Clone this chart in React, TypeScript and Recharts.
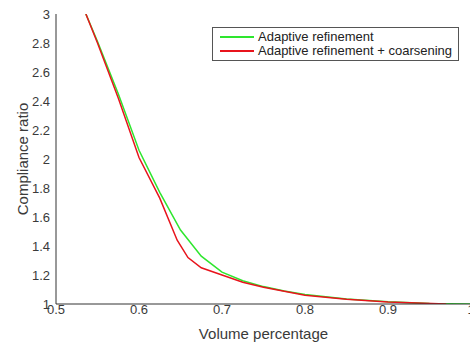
import { LineChart, Line, XAxis, YAxis, Legend } from "recharts";

// Adaptive refinement (green)
const refineVolume = [0.536, 0.55, 0.575, 0.6, 0.625, 0.65, 0.675, 0.7, 0.725, 0.75, 0.775, 0.8, 0.85, 0.9, 0.95, 1.0];
const refineRatio = [3.0, 2.81, 2.45, 2.06, 1.77, 1.51, 1.33, 1.22, 1.16, 1.12, 1.09, 1.065, 1.035, 1.015, 1.003, 1.0];

// Adaptive refinement + coarsening (red)
const coarsenVolume = [0.536, 0.55, 0.575, 0.6, 0.625, 0.646, 0.659, 0.675, 0.7, 0.725, 0.75, 0.8, 0.85, 0.9, 0.97];
const coarsenRatio = [3.0, 2.8, 2.42, 2.01, 1.73, 1.44, 1.32, 1.25, 1.2, 1.15, 1.115, 1.06, 1.033, 1.013, 1.0];

const xTicks = [0.5, 0.6, 0.7, 0.8, 0.9, 1];
const yTicks = [1, 1.2, 1.4, 1.6, 1.8, 2, 2.2, 2.4, 2.6, 2.8, 3];

const refineData = refineVolume.map((v, i) => ({ volume: v, ratio: refineRatio[i] }));
const coarsenData = coarsenVolume.map((v, i) => ({ volume: v, ratio: coarsenRatio[i] }));

const font = "'Liberation Sans', Arial, sans-serif";
const axisColor = "#333";
const textColor = "#3a3a3a";

function LegendBox({ payload }: any) {
  return (
    <div
      style={{
        border: "1px solid #555",
        background: "#fff",
        padding: "2px 6px 2px 7px",
        fontFamily: font,
        fontSize: 13,
        color: "#222",
        lineHeight: "14px",
      }}
    >
      {(payload || []).map((p: any) => (
        <div key={p.value} style={{ display: "flex", alignItems: "center" }}>
          <span style={{ display: "inline-block", width: 34, height: 0, borderTop: `2px solid ${p.color}`, marginRight: 4 }} />
          <span>{p.value}</span>
        </div>
      ))}
    </div>
  );
}

export default function App() {
  return (
    <div style={{ position: "absolute", left: 0, top: 0, width: 470, height: 342, overflow: "hidden", background: "#fff" }}>
      <LineChart width={480} height={342} margin={{ top: 14, right: 9, bottom: 0, left: 0 }}>
        <XAxis
          xAxisId="b"
          dataKey="volume"
          type="number"
          domain={[0.5, 1]}
          ticks={xTicks}
          allowDataOverflow
          height={38}
          tickSize={0}
          tickMargin={1}
          tickLine={false}
          axisLine={{ stroke: axisColor }}
          tick={{ fill: textColor, fontSize: 13, fontFamily: font }}
          label={{ value: "Volume percentage", position: "insideBottom", offset: 3, fill: textColor, fontSize: 15, fontFamily: font }}
        />
        <XAxis
          xAxisId="bm"
          dataKey="volume"
          type="number"
          domain={[0.5, 1]}
          ticks={xTicks}
          mirror
          height={0}
          tick={false}
          tickSize={4}
          axisLine={false}
          tickLine={{ stroke: axisColor }}
        />
        <XAxis
          xAxisId="t"
          orientation="top"
          dataKey="volume"
          type="number"
          domain={[0.5, 1]}
          ticks={xTicks}
          mirror
          height={0}
          tick={false}
          tickSize={4}
          axisLine={{ stroke: "#111" }}
          tickLine={{ stroke: axisColor }}
        />
        <YAxis
          yAxisId="l"
          dataKey="ratio"
          type="number"
          domain={[1, 3]}
          ticks={yTicks}
          allowDataOverflow
          width={56}
          tickSize={0}
          tickMargin={6}
          tickLine={false}
          axisLine={{ stroke: axisColor }}
          tick={{ fill: textColor, fontSize: 13, fontFamily: font }}
          label={{ value: "Compliance ratio", angle: -90, position: "center", dx: -5, fill: textColor, fontSize: 15, fontFamily: font }}
        />
        <YAxis
          yAxisId="lm"
          dataKey="ratio"
          type="number"
          domain={[1, 3]}
          ticks={yTicks}
          mirror
          width={0}
          tick={false}
          tickSize={4}
          axisLine={false}
          tickLine={{ stroke: axisColor }}
        />
        <YAxis
          yAxisId="r"
          orientation="right"
          dataKey="ratio"
          type="number"
          domain={[1, 3]}
          ticks={yTicks}
          mirror
          width={0}
          tick={false}
          tickSize={4}
          axisLine={{ stroke: axisColor }}
          tickLine={{ stroke: axisColor }}
        />
        <Legend
          layout="vertical"
          align="center"
          verticalAlign="middle"
          content={<LegendBox />}
          wrapperStyle={{ position: "absolute", left: 212, top: 27, width: "auto", bottom: "auto", margin: 0 }}
        />
        <Line
          xAxisId="b"
          yAxisId="l"
          data={refineData}
          dataKey="ratio"
          name="Adaptive refinement"
          type="linear"
          stroke="#2ee62e"
          strokeWidth={1.5}
          dot={false}
          isAnimationActive={false}
        />
        <Line
          xAxisId="b"
          yAxisId="l"
          data={coarsenData}
          dataKey="ratio"
          name="Adaptive refinement + coarsening"
          type="linear"
          stroke="#e8141c"
          strokeWidth={1.5}
          dot={false}
          isAnimationActive={false}
        />
      </LineChart>
    </div>
  );
}
